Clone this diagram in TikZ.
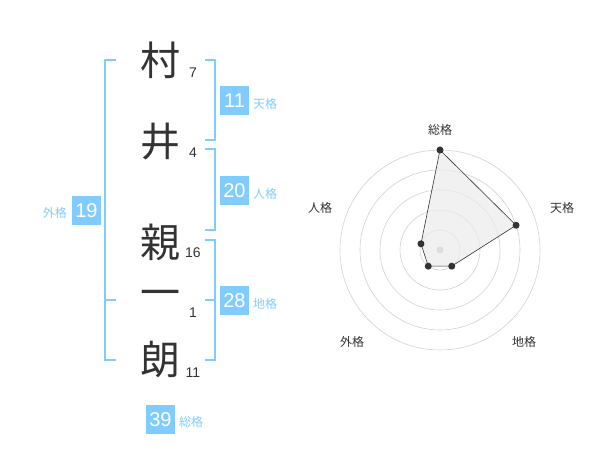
\documentclass[tikz,border=0pt]{standalone}
\usepackage{fontspec}
\newfontfamily\jp{Noto Sans CJK JP}
\newfontfamily\num{Liberation Sans}
\usetikzlibrary{calc}
\definecolor{kakublue}{RGB}{128,204,255}
\definecolor{inkgray}{RGB}{51,51,51}

\begin{document}
\begin{tikzpicture}
[x=1pt,y=-1pt,every node/.style={inner sep=0pt},
	kanji/.style={font=\jp\fontsize{40}{40}\selectfont,text=inkgray},
	strokes/.style={font=\num\fontsize{14}{14}\selectfont,text=inkgray},
	badge/.style={fill=kakublue,minimum size=29pt,text=white,font=\num\fontsize{20}{20}\selectfont},
	kaku/.style={font=\jp\fontsize{12}{12}\selectfont,text=kakublue},
	bracket/.style={draw=kakublue,line width=1.5pt},
	ring/.style={draw=black!18,line width=0.6pt},
	axislabel/.style={font=\jp\fontsize{12}{12}\selectfont,text=inkgray},
	dot/.style={circle,fill=inkgray,minimum size=7pt}]
\useasboundingbox (0,0) rectangle (600,470);

% name and stroke counts
\node[kanji] (k1) at (160,60) {村};
\node[kanji] (k2) at (160,142) {井};
\node[kanji] (k3) at (160,242) {親};
\node[kanji] (k4) at (160,299) {一};
\node[kanji] (k5) at (160,360) {朗};
\foreach \n/\y/\v in {s1/73/7, s2/153/4, s3/253/16, s4/313/1, s5/373/11}
{
	\node[strokes] (\n) at (193,\y) {\v};
};

% brackets
\draw[bracket] (205,60) -- (215,60) -- (215,140) -- (205,140);
\draw[bracket] (205,149) -- (215,149) -- (215,230) -- (205,230);
\draw[bracket] (205,240) -- (215,240) -- (215,360) -- (205,360);
\draw[bracket] (205,300) -- (215,300);
\draw[bracket] (116,60) -- (105,60) -- (105,360) -- (116,360);
\draw[bracket] (105,300) -- (116,300);

% badges
\node[badge] (ten) at (234.5,100.5) {11};
\node[kaku,anchor=west] at (253,104) {天格};
\node[badge] (jin) at (234.5,190.5) {20};
\node[kaku,anchor=west] at (253,194) {人格};
\node[badge] (chi) at (234.5,300.5) {28};
\node[kaku,anchor=west] at (253,304) {地格};
\node[badge] (gai) at (86.5,210.5) {19};
\node[kaku,anchor=east] at (67,213) {外格};
\node[badge] (sou) at (160.5,419.5) {39};
\node[kaku,anchor=west] at (179,422) {総格};

% radar
\coordinate (o) at (440,250);
\foreach \r in {20,40,60,80,100}
{
	\draw[ring] (o) circle (\r pt);
};
\fill[black!25] (o) circle (3.5pt);
\foreach \n/\a/\r in {p1/90/100, p2/18/80, p3/-54/20, p4/-126/20, p5/162/20}
{
	\coordinate (\n) at ($(o)+(\a:\r pt)$);
};
\filldraw[fill=black!8,fill opacity=0.7,draw=inkgray,line width=0.6pt]
	(p1) -- (p2) -- (p3) -- (p4) -- (p5) -- cycle;
\foreach \n in {p1,p2,p3,p4,p5}
{
	\node[dot] at (\n) {};
};
\node[axislabel] (a1) at (440,130) {総格};
\node[axislabel] (a2) at (562,208) {天格};
\node[axislabel] (a3) at (524,342) {地格};
\node[axislabel] (a4) at (352,342) {外格};
\node[axislabel] (a5) at (320,208) {人格};
\end{tikzpicture}
\end{document}
